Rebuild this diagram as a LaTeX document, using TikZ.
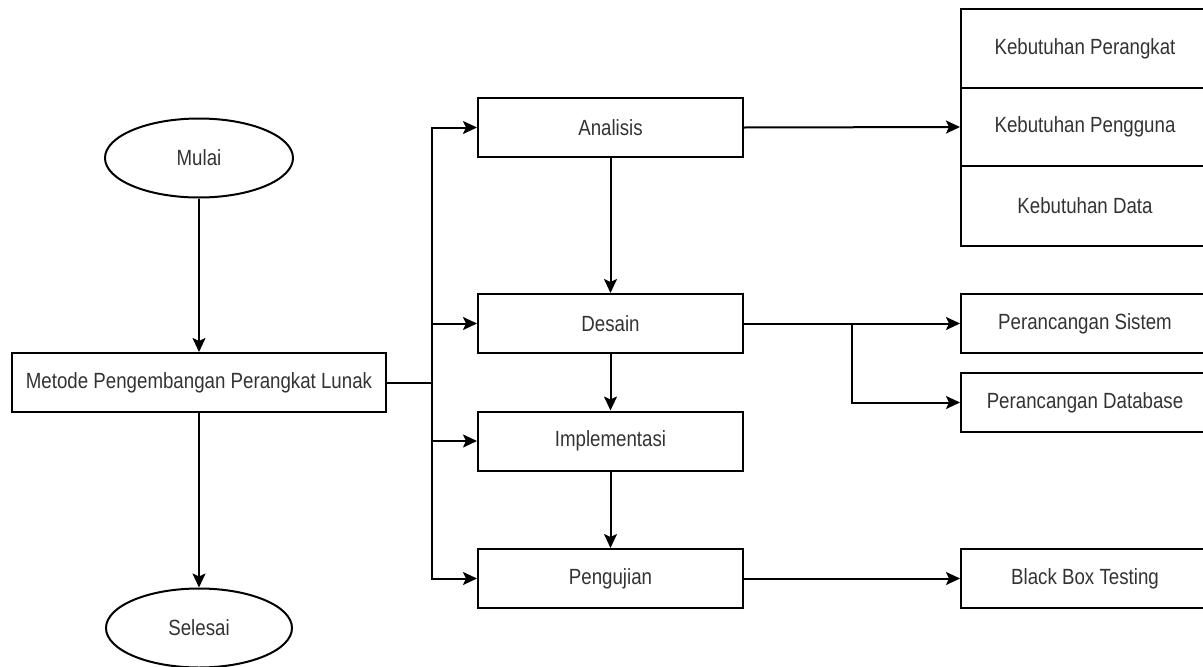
\documentclass[tikz,border=0pt]{standalone}
\usepackage{fontspec}
\setmainfont[FakeStretch=0.85]{Liberation Sans}
\usetikzlibrary{shapes.geometric,arrows.meta}

\begin{document}
\begin{tikzpicture}[x=1pt,y=-1pt,
		every node/.style={text=black!80,font=\fontsize{22}{26}\selectfont,inner sep=0pt},
		kotak/.style={draw,rectangle,minimum width=265pt,minimum height=59pt},
		sisi/.style={draw,rectangle,minimum width=248pt,minimum height=59pt},
		elips/.style={draw,ellipse,minimum width=188pt,minimum height=79pt},
		panah/.style={-{Stealth[length=14pt,width=13pt,inset=3pt]}},
		line width=2pt]
\useasboundingbox (0,0) rectangle (1203,667);
\clip (0,0) rectangle (1203,667);

		\node[elips] (mulai) at (199,158) {Mulai};
		\node[draw,rectangle,minimum width=374pt,minimum height=59pt] (metode) at (199,382.5) {Metode Pengembangan Perangkat Lunak};
		\node[elips,minimum width=186pt] (selesai) at (199,628) {Selesai};

		\node[kotak] (analisis) at (610.5,127.5) {Analisis};
		\node[kotak] (desain) at (610.5,323.5) {Desain};
		\node[kotak] (implementasi) at (610.5,441) {Implementasi};
		\node[kotak] (pengujian) at (610.5,578.5) {Pengujian};

\node[sisi,minimum height=79pt] (perangkat) at (1085,48.5) {Kebutuhan Perangkat};
\node[sisi,minimum height=78pt] (pengguna) at (1085,127) {Kebutuhan Pengguna};
\node[sisi,minimum height=80pt] (data) at (1085,206) {Kebutuhan Data};
\node[sisi] (sistem) at (1085,323.5) {Perancangan Sistem};
\node[sisi] (database) at (1085,402.5) {Perancangan Database};
\node[sisi] (blackbox) at (1085,578.5) {Black Box Testing};

\coordinate (bus) at (432,382.5);
\coordinate (cabang) at (852,323.5);

\draw [panah](mulai) -- (metode);
\draw [panah](metode) -- (selesai);

\draw (metode.east) -- (bus);
\draw [panah](bus) |- (analisis.west);
\draw [panah](bus) |- (desain.west);
\draw [panah](bus) |- (implementasi.west);
\draw [panah](bus) |- (pengujian.west);

\draw [panah](analisis) -- (desain);
\draw [panah](desain) -- (implementasi);
\draw [panah](implementasi) -- (pengujian);

\draw [panah](analisis.east) -- (pengguna.west);
\draw [panah](desain.east) -- (sistem.west);
\draw [panah](cabang) |- (database.west);
\draw [panah](pengujian.east) -- (blackbox.west);
		\end{tikzpicture}
\end{document}
